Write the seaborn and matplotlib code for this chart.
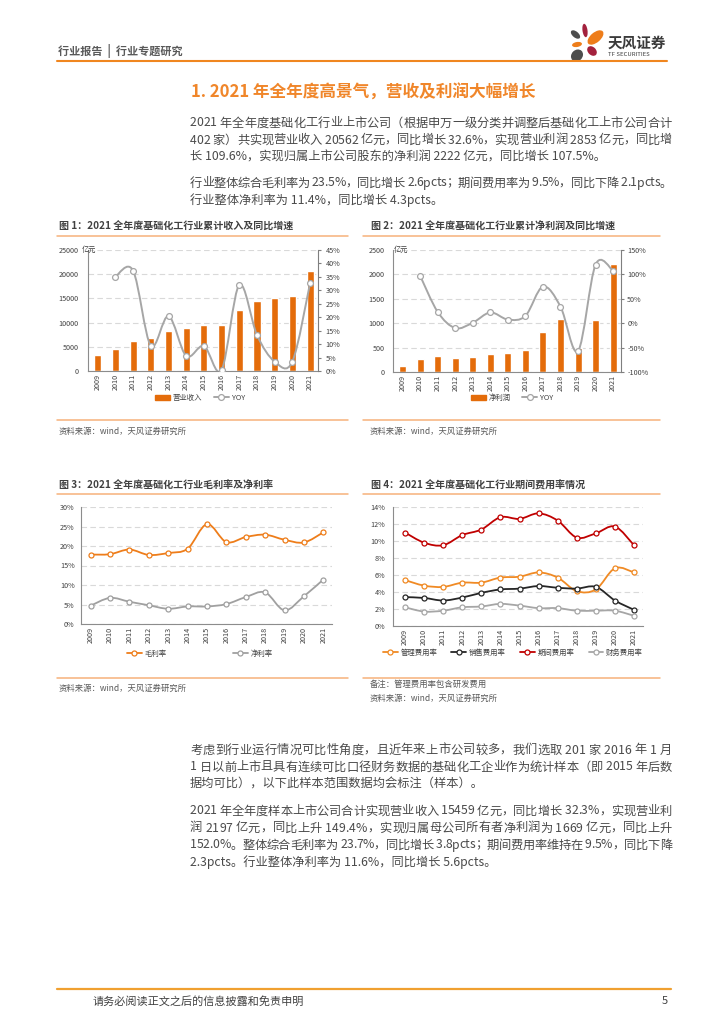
import numpy as np
import pandas as pd
import matplotlib.pyplot as plt
import seaborn as sns
from matplotlib.path import Path
from matplotlib.patches import PathPatch, Ellipse, Patch
from matplotlib.lines import Line2D

# ---- values ----
years = [str(y) for y in range(2009, 2022)]

# fig 1: revenue (亿元) and YOY (%), YOY starts 2010
revenue = [3300, 4500, 6200, 6800, 8300, 8800, 9500, 9600, 12700, 14450, 15000, 15500, 20562]
revenue_yoy = [35.1, 37.3, 9.4, 20.4, 5.6, 9.3, 0.4, 32.0, 13.4, 3.5, 3.5, 32.6]

# fig 2: net profit (亿元) and YOY (%)
profit = [125, 265, 330, 295, 300, 365, 390, 460, 815, 1095, 490, 1070, 2222]
profit_yoy = [97, 23, -10, 1, 22, 7.5, 15, 75, 34, -57, 120, 107.5]

# fig 3: margins (%)
gross_margin = [17.8, 17.9, 19.1, 17.7, 18.2, 19.3, 25.6, 21.0, 22.3, 22.9, 21.6, 20.9, 23.5]
net_margin = [4.7, 6.7, 5.7, 4.8, 3.9, 4.5, 4.5, 5.1, 6.9, 8.1, 3.5, 7.1, 11.4]

# fig 4: expense ratios (%)
admin_rate = [5.4, 4.75, 4.6, 5.1, 5.1, 5.7, 5.8, 6.3, 5.7, 4.1, 4.3, 6.8, 6.3]
sales_rate = [3.4, 3.3, 3.0, 3.35, 3.9, 4.3, 4.4, 4.7, 4.5, 4.4, 4.6, 3.0, 1.9]
period_rate = [11.0, 9.8, 9.5, 10.7, 11.35, 12.8, 12.6, 13.25, 12.4, 10.4, 10.9, 11.7, 9.5]
finance_rate = [2.2, 1.7, 1.8, 2.2, 2.3, 2.6, 2.4, 2.1, 2.1, 1.8, 1.8, 1.8, 1.2]

rate_labels = ['管理费用率', '销售费用率', '期间费用率', '财务费用率']

# ---- page text ----
title = '1. 2021 年全年度高景气，营收及利润大幅增长'
para1 = ['2021 年全年度基础化工行业上市公司（根据申万一级分类并调整后基础化工上市公司合计',
         '402 家）共实现营业收入 20562 亿元，同比增长 32.6%，实现营业利润 2853 亿元，同比增',
         '长 109.6%，实现归属上市公司股东的净利润 2222 亿元，同比增长 107.5%。']
para2 = ['行业整体综合毛利率为 23.5%，同比增长 2.6pcts；期间费用率为 9.5%，同比下降 2.1pcts。',
         '行业整体净利率为 11.4%，同比增长 4.3pcts。']
para3 = ['考虑到行业运行情况可比性角度，且近年来上市公司较多，我们选取 201 家 2016 年 1 月',
         '1 日以前上市且具有连续可比口径财务数据的基础化工企业作为统计样本（即 2015 年后数',
         '据均可比），以下此样本范围数据均会标注（样本）。']
para4 = ['2021 年全年度样本上市公司合计实现营业收入 15459 亿元，同比增长 32.3%，实现营业利',
         '润 2197 亿元，同比上升 149.4%，实现归属母公司所有者净利润为 1669 亿元，同比上升',
         '152.0%。整体综合毛利率为 23.7%，同比增长 3.8pcts；期间费用率维持在 9.5%，同比下降',
         '2.3pcts。行业整体净利率为 11.6%，同比增长 5.6pcts。']
source = '资料来源：wind，天风证券研究所'

ORANGE = '#E46C0A'
LINE_OR = '#F0861F'
GRAY = '#A6A6A6'
TXT = '#404040'

sns.set_style('white')
plt.rcParams['font.family'] = ['Noto Sans CJK SC', 'DejaVu Sans']
plt.rcParams['axes.unicode_minus'] = False

W, H = 724, 1024
fig = plt.figure(figsize=(W / 100, H / 100), dpi=100)


def fx(x):
    return x / W


def fy(y):
    return 1 - y / H


def add_axes(x0, y0, x1, y1):
    return fig.add_axes([fx(x0), fy(y1), (x1 - x0) / W, (y1 - y0) / H])


def hline(x0, x1, y, color, lw):
    fig.add_artist(Line2D([fx(x0), fx(x1)], [fy(y), fy(y)], color=color, lw=lw,
                          transform=fig.transFigure))


renderer = fig.canvas.get_renderer()
probe = fig.text(0, 0, '')
width_cache = {}


def text_w(s, fs):
    probe.set_fontsize(fs)
    probe.set_text(s)
    return probe.get_window_extent(renderer).width


def char_w(ch, fs):
    key = (ch, fs)
    if key not in width_cache:
        width_cache[key] = text_w('|' + ch + '|', fs) - text_w('||', fs)
    return width_cache[key]


def put_line(s, x0, y, fs, color=TXT, x1=None, **kw):
    if x1 is None:
        fig.text(fx(x0), fy(y), s, fontsize=fs, color=color, va='center', ha='left', **kw)
        return
    ws = [char_w(ch, fs) for ch in s]
    gap = ((x1 - x0) - sum(ws)) / (len(s) - 1)
    x = x0
    for ch, w in zip(s, ws):
        if ch != ' ':
            fig.text(fx(x), fy(y), ch, fontsize=fs, color=color, va='center', ha='left', **kw)
        x += w + gap


def put_para(lines, y0, step=17, fs=8.8):
    for i, s in enumerate(lines):
        last = i == len(lines) - 1
        put_line(s, 190, y0 + i * step, fs, color='#4A4A4A', x1=None if last else 672)


def smooth_path(xs, ys):
    # excel-style smoothed connector through the data points
    pts = np.column_stack([xs, ys]).astype(float)
    verts = [pts[0]]
    codes = [Path.MOVETO]
    n = len(pts)
    for i in range(n - 1):
        p0 = pts[i - 1] if i > 0 else pts[i]
        p1, p2 = pts[i], pts[i + 1]
        p3 = pts[i + 2] if i + 2 < n else pts[i + 1]
        verts += [p1 + (p2 - p0) / 6, p2 - (p3 - p1) / 6, p2]
        codes += [Path.CURVE4] * 3
    return Path(verts, codes)


def draw_series(ax, xs, ys, color, lw=1.3, ms=4):
    ax.add_patch(PathPatch(smooth_path(xs, ys), fill=False, edgecolor=color, lw=lw, zorder=3))
    sns.lineplot(x=list(xs), y=list(ys), ax=ax, color=color, marker='o', linestyle='',
                 markersize=ms, markerfacecolor='white', markeredgecolor=color,
                 markeredgewidth=0.9, zorder=4)
    ax.set_xlabel('')
    ax.set_ylabel('')


def line_handle(color, lw=1.3, ms=4):
    return Line2D([], [], color=color, lw=lw, marker='o', markersize=ms,
                  markerfacecolor='white', markeredgecolor=color, markeredgewidth=0.9)


def base_style(ax, ypad=5.5):
    for s in ['top', 'right']:
        ax.spines[s].set_visible(False)
    for s in ['left', 'bottom']:
        ax.spines[s].set_color('#8C8C8C')
        ax.spines[s].set_linewidth(0.8)
    ax.tick_params(axis='both', labelsize=5.2, labelcolor=TXT, length=0)
    ax.tick_params(axis='y', pad=ypad)
    ax.tick_params(axis='x', pad=2)
    ax.yaxis.grid(True, color='#D9D9D9', linestyle=(0, (5, 3)), lw=0.8)
    ax.xaxis.grid(False)
    ax.set_axisbelow(True)
    ax.set_xlabel('')
    ax.set_ylabel('')


def place_legend(ax, handles, labels, cx, cy, colsp):
    ax.legend(handles, labels, loc='center', bbox_to_anchor=(fx(cx), fy(cy)),
              bbox_transform=fig.transFigure, ncol=len(labels), frameon=False,
              fontsize=5.3, handlelength=2.0, handletextpad=0.4, columnspacing=colsp,
              borderpad=0, borderaxespad=0, labelcolor=TXT)


def right_axis(axr, ticks, ylim, pad=4.5):
    axr.set_ylim(*ylim)
    axr.set_yticks(ticks)
    axr.set_yticklabels([f'{t}%' for t in ticks])
    for s in ['top', 'left', 'bottom']:
        axr.spines[s].set_visible(False)
    axr.spines['right'].set_color('#7F7F7F')
    axr.spines['right'].set_linewidth(0.8)
    axr.tick_params(axis='y', labelsize=5.2, labelcolor=TXT, length=2, color='#7F7F7F',
                    pad=pad)
    axr.grid(False)
    axr.set_ylabel('')


# ---- header ----
put_line('行业报告  |  行业专题研究', 58, 51, 8, color='#595959', fontweight='bold')
hline(57, 667, 61, LINE_OR, 1.5)

lax = add_axes(565, 18, 615, 66)
lax.set_xlim(565, 615)
lax.set_ylim(66, 18)
lax.axis('off')
for (cx, cy, w, h, ang, col) in [(575.5, 34.5, 11, 6, 40, '#4D4D4D'),
                                 (585, 30.5, 5, 13.5, -8, '#A3213D'),
                                 (595.5, 37.5, 19, 10, -40, '#EE7D1A'),
                                 (577, 44.5, 10, 5, -10, '#EE7D1A'),
                                 (592, 51, 11, 8, 45, '#A3213D'),
                                 (577, 55.5, 13, 11, -45, '#4D4D4D')]:
    lax.add_patch(Ellipse((cx, cy), w, h, angle=ang, color=col, lw=0))
put_line('天风证券', 608, 43, 10.5, color='#3A3A3A', fontweight='bold')
put_line('TF SECURITIES', 608, 55, 4.3, color='#3A3A3A')

put_line(title, 191, 93, 12, color='#F0862A', fontweight='bold')
put_para(para1, 123)
put_para(para2, 183)

# ---- chart titles and separators ----
chart_titles = [('图 1：2021 全年度基础化工行业累计收入及同比增速', 59, 227),
                ('图 2：2021 全年度基础化工行业累计净利润及同比增速', 371, 227),
                ('图 3：2021 全年度基础化工行业毛利率及净利率', 59, 485),
                ('图 4：2021 全年度基础化工行业期间费用率情况', 371, 485)]
for s, x, y in chart_titles:
    put_line(s, x, y, 7.2, color=TXT, fontweight='bold')
SEP = '#F7B27A'
for y in [236, 420, 494, 678]:
    hline(57, 348, y, SEP, 1.1)
    hline(363, 660, y, SEP, 1.1)
put_line(source, 59, 431, 6, color='#595959')
put_line(source, 370, 431, 6, color='#595959')
put_line(source, 59, 688, 6, color='#595959')
put_line('备注：管理费用率包含研发费用', 370, 684, 6, color='#595959')
put_line(source, 370, 698, 6, color='#595959')

# ---- chart 1 ----
ax1 = add_axes(88, 250, 318, 371)
sns.barplot(x=years, y=revenue, ax=ax1, color=ORANGE, saturation=1, width=0.4, errorbar=None)
base_style(ax1, ypad=7)
ax1.set_ylim(0, 25000)
ax1.set_yticks(range(0, 25001, 5000))
ax1r = ax1.twinx()
draw_series(ax1r, np.arange(1, 13), revenue_yoy, GRAY, lw=1.4, ms=4.2)
right_axis(ax1r, list(range(0, 46, 5)), (0, 45), pad=3.5)
ax1.set_xlim(-0.55, 12.45)
ax1.set_xticks(range(13))
ax1.set_xticklabels(years, rotation=90)
put_line('亿元', 82, 250, 5.2, color=TXT)
place_legend(ax1r, [Patch(color=ORANGE), line_handle(GRAY, 1.4, 4.2)], ['营业收入', 'YOY'],
             200, 398, 1.6)

# ---- chart 2 ----
ax2 = add_axes(393, 250, 621, 372)
sns.barplot(x=years, y=profit, ax=ax2, color=ORANGE, saturation=1, width=0.4, errorbar=None)
base_style(ax2, ypad=6)
ax2.set_ylim(0, 2500)
ax2.set_yticks(range(0, 2501, 500))
ax2r = ax2.twinx()
draw_series(ax2r, np.arange(1, 13), profit_yoy, GRAY, lw=1.4, ms=4.2)
right_axis(ax2r, list(range(-100, 151, 50)), (-100, 150), pad=2.5)
ax2.set_xlim(-0.55, 12.45)
ax2.set_xticks(range(13))
ax2.set_xticklabels(years, rotation=90)
put_line('亿元', 394, 250, 5.2, color=TXT)
place_legend(ax2r, [Patch(color=ORANGE), line_handle(GRAY, 1.4, 4.2)], ['净利润', 'YOY'],
             512, 398, 1.6)

# ---- chart 3 ----
ax3 = add_axes(81, 507, 332, 624)
xs = np.arange(13)
draw_series(ax3, xs, gross_margin, '#EE7D1A', lw=1.3, ms=3.6)
draw_series(ax3, xs, net_margin, '#A0A0A0', lw=1.3, ms=3.6)
base_style(ax3, ypad=4.5)
ax3.set_ylim(0, 30)
ax3.set_yticks(range(0, 31, 5))
ax3.set_yticklabels([f'{t}%' for t in range(0, 31, 5)])
ax3.set_xlim(-0.5, 12.45)
ax3.set_xticks(range(13))
ax3.set_xticklabels(years, rotation=90)
place_legend(ax3, [line_handle('#EE7D1A', 1.3, 3.6), line_handle('#A0A0A0', 1.3, 3.6)],
             ['毛利率', '净利率'], 200, 654, 9)

# ---- chart 4 ----
ax4 = add_axes(393, 507, 643, 626)
rate_colors = ['#F08A24', '#262626', '#C00000', '#A6A6A6']
for vals, col in zip([admin_rate, sales_rate, period_rate, finance_rate], rate_colors):
    draw_series(ax4, xs, vals, col, lw=1.3, ms=3.6)
base_style(ax4, ypad=5.5)
ax4.set_ylim(0, 14)
ax4.set_yticks(range(0, 15, 2))
ax4.set_yticklabels([f'{t}%' for t in range(0, 15, 2)])
ax4.set_xlim(-0.63, 12.47)
ax4.set_xticks(range(13))
ax4.set_xticklabels(years, rotation=90)
place_legend(ax4, [line_handle(c, 1.3, 3.6) for c in rate_colors], rate_labels, 513, 653, 1.9)

# ---- lower text and footer ----
put_para(para3, 750)
put_para(para4, 811)
hline(57, 671, 989, '#F0A030', 1.6)
put_line('请务必阅读正文之后的信息披露和免责申明', 93, 1001, 8, color=TXT)
put_line('5', 662, 1001, 8, color=TXT)

probe.remove()
fig.savefig('out.png', dpi=100)
